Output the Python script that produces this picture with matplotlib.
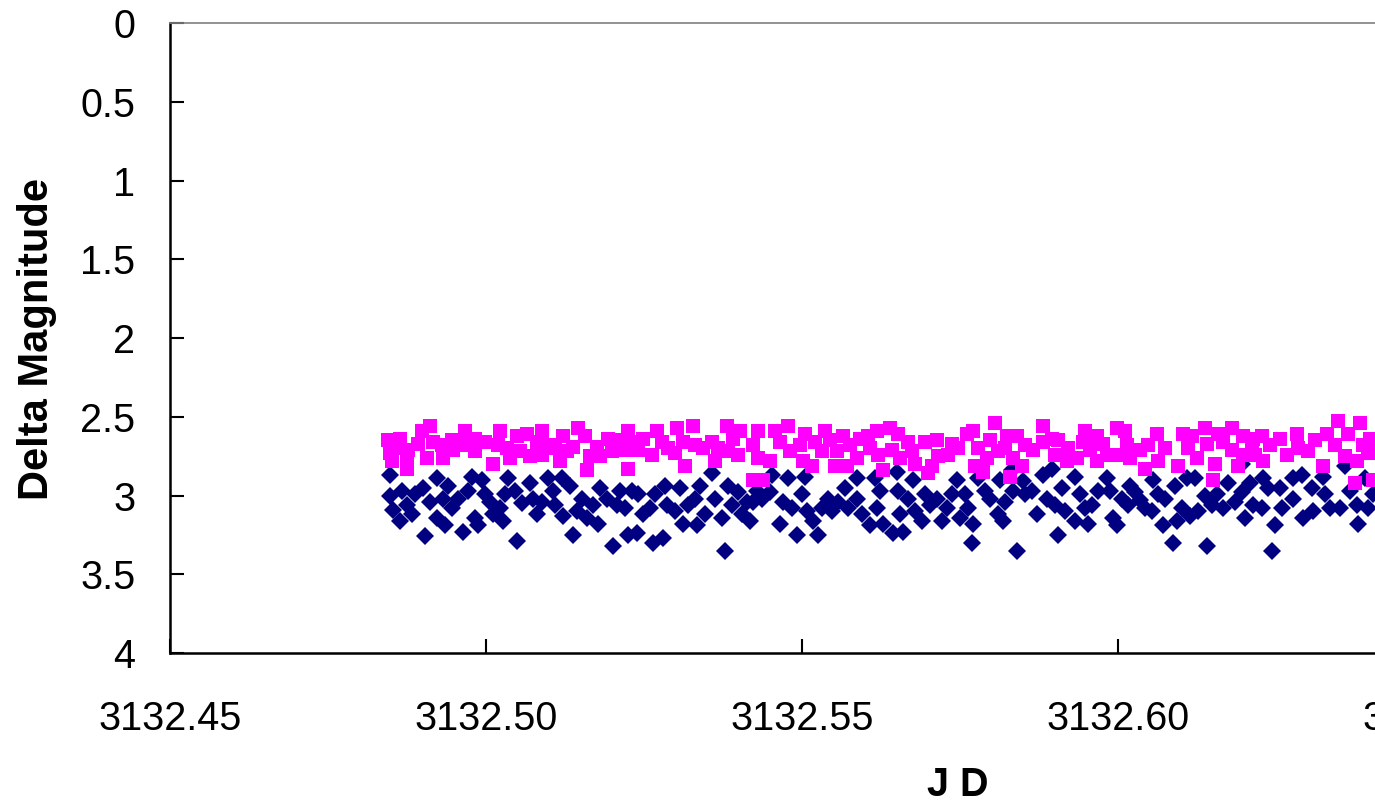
import numpy as np
import matplotlib
matplotlib.use('Agg')
import matplotlib.pyplot as plt

## Dati: JD e delta magnitudine
## serie rosa (quadrati)
jd_pink = [3132.4845, 3132.4848, 3132.4851, 3132.4861, 3132.4864, 3132.4875, 3132.4875, 3132.4877,
           3132.4892, 3132.4899, 3132.4907, 3132.4911, 3132.4916, 3132.4930, 3132.4932, 3132.4946,
           3132.4948, 3132.4964, 3132.4967, 3132.4983, 3132.4983, 3132.4998, 3132.5011, 3132.5019,
           3132.5022, 3132.5033, 3132.5038, 3132.5049, 3132.5054, 3132.5065, 3132.5070, 3132.5081,
           3132.5089, 3132.5089, 3132.5101, 3132.5109, 3132.5117, 3132.5122, 3132.5128, 3132.5138,
           3132.5146, 3132.5157, 3132.5160, 3132.5165, 3132.5176, 3132.5180, 3132.5193, 3132.5199,
           3132.5209, 3132.5220, 3132.5225, 3132.5225, 3132.5228, 3132.5241, 3132.5248, 3132.5263,
           3132.5271, 3132.5278, 3132.5288, 3132.5299, 3132.5302, 3132.5312, 3132.5315, 3132.5328,
           3132.5331, 3132.5343, 3132.5358, 3132.5362, 3132.5367, 3132.5381, 3132.5383, 3132.5391,
           3132.5399, 3132.5402, 3132.5422, 3132.5422, 3132.5430, 3132.5430, 3132.5438, 3132.5449,
           3132.5457, 3132.5465, 3132.5478, 3132.5481, 3132.5497, 3132.5502, 3132.5505, 3132.5516,
           3132.5521, 3132.5532, 3132.5536, 3132.5544, 3132.5552, 3132.5555, 3132.5565, 3132.5571,
           3132.5576, 3132.5587, 3132.5592, 3132.5604, 3132.5608, 3132.5619, 3132.5620, 3132.5628,
           3132.5639, 3132.5642, 3132.5652, 3132.5655, 3132.5668, 3132.5674, 3132.5679, 3132.5695,
           3132.5699, 3132.5706, 3132.5714, 3132.5715, 3132.5731, 3132.5737, 3132.5747, 3132.5761,
           3132.5771, 3132.5774, 3132.5778, 3132.5786, 3132.5793, 3132.5797, 3132.5805, 3132.5810,
           3132.5821, 3132.5824, 3132.5829, 3132.5834, 3132.5840, 3132.5848, 3132.5853, 3132.5865,
           3132.5881, 3132.5881, 3132.5896, 3132.5900, 3132.5905, 3132.5919, 3132.5921, 3132.5935,
           3132.5945, 3132.5948, 3132.5956, 3132.5967, 3132.5967, 3132.5976, 3132.5983, 3132.5998,
           3132.6003, 3132.6011, 3132.6014, 3132.6019, 3132.6035, 3132.6043, 3132.6047, 3132.6062,
           3132.6063, 3132.6074, 3132.6095, 3132.6103, 3132.6111, 3132.6117, 3132.6125, 3132.6138,
           3132.6141, 3132.6150, 3132.6153, 3132.6158, 3132.6166, 3132.6180, 3132.6180, 3132.6190,
           3132.6198, 3132.6198, 3132.6212, 3132.6214, 3132.6217, 3132.6228, 3132.6229, 3132.6240,
           3132.6256, 3132.6267, 3132.6283, 3132.6285, 3132.6301, 3132.6312, 3132.6324, 3132.6331,
           3132.6343, 3132.6348, 3132.6359, 3132.6364, 3132.6375, 3132.6378, 3132.6383, 3132.6388,
           3132.6396, 3132.6399, 3132.6403]
mag_pink = [2.65, 2.73, 2.78, 2.70, 2.64, 2.83, 2.78, 2.71,
            2.67, 2.59, 2.76, 2.56, 2.66, 2.68, 2.76, 2.65,
            2.71, 2.68, 2.59, 2.64, 2.72, 2.66, 2.80, 2.68,
            2.59, 2.70, 2.76, 2.62, 2.72, 2.61, 2.75, 2.66,
            2.59, 2.74, 2.68, 2.70, 2.78, 2.62, 2.72, 2.69,
            2.57, 2.62, 2.84, 2.75, 2.69, 2.75, 2.64, 2.72,
            2.65, 2.71, 2.83, 2.59, 2.66, 2.71, 2.64, 2.74,
            2.59, 2.66, 2.70, 2.73, 2.57, 2.66, 2.81, 2.56,
            2.68, 2.70, 2.66, 2.78, 2.70, 2.56, 2.72, 2.64,
            2.74, 2.59, 2.68, 2.90, 2.59, 2.76, 2.90, 2.78,
            2.59, 2.66, 2.56, 2.72, 2.68, 2.78, 2.61, 2.81,
            2.66, 2.72, 2.59, 2.65, 2.81, 2.72, 2.62, 2.81,
            2.68, 2.76, 2.64, 2.62, 2.70, 2.59, 2.74, 2.84,
            2.57, 2.71, 2.61, 2.76, 2.66, 2.72, 2.80, 2.66,
            2.86, 2.81, 2.65, 2.75, 2.74, 2.67, 2.70, 2.61,
            2.59, 2.81, 2.70, 2.85, 2.76, 2.65, 2.54, 2.72,
            2.70, 2.62, 2.88, 2.76, 2.62, 2.81, 2.68, 2.71,
            2.56, 2.66, 2.64, 2.74, 2.65, 2.78, 2.70, 2.76,
            2.66, 2.59, 2.71, 2.78, 2.62, 2.67, 2.74, 2.57,
            2.74, 2.59, 2.68, 2.76, 2.71, 2.83, 2.68, 2.61,
            2.78, 2.70, 2.81, 2.61, 2.70, 2.62, 2.76, 2.57,
            2.67, 2.90, 2.80, 2.61, 2.66, 2.57, 2.71, 2.81,
            2.62, 2.74, 2.68, 2.64, 2.74, 2.62, 2.78, 2.68,
            2.64, 2.74, 2.61, 2.70, 2.72, 2.65, 2.81, 2.61,
            2.68, 2.53, 2.75, 2.61, 2.92, 2.78, 2.54, 2.68,
            2.73, 2.64, 2.90]

## serie blu (rombi)
jd_blue = [3132.4848, 3132.4848, 3132.4853, 3132.4864, 3132.4867, 3132.4875, 3132.4883, 3132.4888,
           3132.4900, 3132.4903, 3132.4911, 3132.4922, 3132.4922, 3132.4932, 3132.4935, 3132.4940,
           3132.4946, 3132.4956, 3132.4964, 3132.4972, 3132.4978, 3132.4983, 3132.4987, 3132.4994,
           3132.4998, 3132.5006, 3132.5011, 3132.5022, 3132.5035, 3132.5030, 3132.5027, 3132.5046,
           3132.5049, 3132.5057, 3132.5070, 3132.5074, 3132.5081, 3132.5089, 3132.5098, 3132.5106,
           3132.5109, 3132.5120, 3132.5122, 3132.5133, 3132.5138, 3132.5144, 3132.5152, 3132.5160,
           3132.5169, 3132.5180, 3132.5177, 3132.5191, 3132.5201, 3132.5207, 3132.5212, 3132.5220,
           3132.5225, 3132.5231, 3132.5239, 3132.5241, 3132.5248, 3132.5259, 3132.5264, 3132.5267,
           3132.5280, 3132.5283, 3132.5286, 3132.5299, 3132.5307, 3132.5312, 3132.5320, 3132.5331,
           3132.5334, 3132.5339, 3132.5347, 3132.5358, 3132.5362, 3132.5373, 3132.5378, 3132.5383,
           3132.5389, 3132.5399, 3132.5405, 3132.5413, 3132.5418, 3132.5422, 3132.5429, 3132.5437,
           3132.5453, 3132.5449, 3132.5465, 3132.5470, 3132.5478, 3132.5484, 3132.5492, 3132.5500,
           3132.5505, 3132.5508, 3132.5517, 3132.5525, 3132.5532, 3132.5541, 3132.5547, 3132.5557,
           3132.5568, 3132.5573, 3132.5587, 3132.5587, 3132.5595, 3132.5608, 3132.5616, 3132.5619,
           3132.5623, 3132.5628, 3132.5644, 3132.5650, 3132.5652, 3132.5655, 3132.5660, 3132.5668,
           3132.5676, 3132.5679, 3132.5690, 3132.5695, 3132.5703, 3132.5714, 3132.5722, 3132.5729,
           3132.5737, 3132.5745, 3132.5750, 3132.5758, 3132.5763, 3132.5769, 3132.5771, 3132.5778,
           3132.5790, 3132.5797, 3132.5810, 3132.5818, 3132.5813, 3132.5821, 3132.5832, 3132.5834,
           3132.5840, 3132.5850, 3132.5853, 3132.5864, 3132.5872, 3132.5881, 3132.5888, 3132.5896,
           3132.5900, 3132.5905, 3132.5911, 3132.5916, 3132.5932, 3132.5932, 3132.5940, 3132.5948,
           3132.5953, 3132.5959, 3132.5968, 3132.5983, 3132.5987, 3132.5992, 3132.5998, 3132.6006,
           3132.6016, 3132.6019, 3132.6027, 3132.6035, 3132.6043, 3132.6055, 3132.6054, 3132.6063,
           3132.6071, 3132.6074, 3132.6087, 3132.6090, 3132.6093, 3132.6101, 3132.6109, 3132.6114,
           3132.6122, 3132.6127, 3132.6138, 3132.6141, 3132.6149, 3132.6157, 3132.6166, 3132.6174,
           3132.6185, 3132.6196, 3132.6196, 3132.6201, 3132.6209, 3132.6214, 3132.6229, 3132.6228,
           3132.6237, 3132.6248, 3132.6244, 3132.6256, 3132.6260, 3132.6277, 3132.6277, 3132.6291,
           3132.6293, 3132.6307, 3132.6309, 3132.6324, 3132.6328, 3132.6335, 3132.6351, 3132.6359,
           3132.6367, 3132.6378, 3132.6380, 3132.6391, 3132.6396, 3132.6403]
mag_blue = [2.87, 3.00, 3.09, 3.16, 2.97, 3.06, 3.12, 2.99,
            2.95, 3.26, 3.04, 2.89, 3.14, 3.02, 3.19, 2.94,
            3.08, 3.02, 3.23, 2.97, 2.88, 3.14, 3.19, 2.90,
            2.99, 3.04, 3.12, 3.08, 2.89, 2.99, 3.16, 2.97,
            3.29, 3.05, 2.92, 3.02, 3.12, 3.04, 2.89, 2.97,
            3.06, 2.89, 3.13, 2.94, 3.25, 3.10, 3.02, 3.14,
            3.06, 2.95, 3.18, 3.02, 3.32, 3.06, 2.97, 3.08,
            3.25, 2.97, 3.24, 2.99, 3.12, 3.08, 3.30, 2.99,
            3.27, 2.94, 3.06, 3.10, 2.95, 3.18, 3.06, 3.02,
            3.19, 2.94, 3.12, 2.86, 3.02, 3.14, 3.35, 2.94,
            3.06, 2.98, 3.12, 3.04, 3.16, 3.04, 2.97, 3.02,
            2.87, 2.98, 3.18, 3.04, 2.89, 3.08, 3.25, 2.99,
            2.88, 3.10, 3.16, 3.25, 3.08, 3.02, 3.10, 3.04,
            2.95, 3.08, 2.89, 3.02, 3.12, 3.19, 2.89, 3.08,
            2.97, 3.18, 3.24, 2.85, 2.97, 3.12, 3.23, 3.02,
            2.90, 3.10, 3.16, 2.99, 3.06, 3.02, 3.16, 3.08,
            2.99, 2.90, 3.14, 2.99, 3.08, 3.30, 3.18, 2.89,
            2.97, 3.02, 3.12, 3.16, 2.90, 3.04, 2.84, 2.97,
            3.35, 2.91, 2.99, 2.97, 3.12, 2.87, 3.02, 2.83,
            3.06, 3.25, 2.95, 3.10, 2.88, 3.16, 2.99, 3.08,
            3.18, 3.06, 2.97, 2.89, 2.97, 3.14, 3.19, 3.02,
            3.06, 2.94, 2.98, 3.03, 3.08, 2.90, 3.10, 2.99,
            3.19, 3.02, 3.30, 2.94, 3.16, 3.08, 2.89, 3.13,
            2.89, 3.10, 3.00, 3.32, 3.06, 2.99, 3.08, 2.92,
            3.04, 2.80, 2.98, 3.14, 2.92, 3.06, 2.89, 3.08,
            2.95, 3.19, 3.35, 2.95, 3.08, 2.89, 3.02, 2.87,
            3.14, 2.95, 3.10, 2.88, 2.99, 3.08, 3.08, 2.81,
            2.97, 3.06, 3.18, 2.89, 3.08, 2.99]

yticks = [0, 0.5, 1, 1.5, 2, 2.5, 3, 3.5, 4]
ylabels = ['0', '0.5', '1', '1.5', '2', '2.5', '3', '3.5', '4']
xticks = [3132.45, 3132.50, 3132.55, 3132.60, 3132.65]
xlabels = ['3132.45', '3132.50', '3132.55', '3132.60', '3132.65']

plt.rcParams['font.family'] = ['Liberation Sans', 'DejaVu Sans']

fig = plt.figure(figsize=(13.75, 8.07), dpi=100)
# l'area del grafico esce a destra oltre il bordo della figura (come nell'originale)
ax = fig.add_axes([0.1236, 0.1908, 0.9193, 0.7807])

ax.plot(jd_blue, mag_blue, 'D', color='#000080', markersize=9, markeredgewidth=0, zorder=2)
ax.plot(jd_pink, mag_pink, 's', color='#FF00FF', markersize=9.5, markeredgewidth=0, zorder=3)

ax.set_xlim(3132.45, 3132.65)
ax.set_ylim(4, 0)
ax.set_yticks(yticks)
ax.set_yticklabels(ylabels)
ax.set_xticks(xticks)
ax.set_xticklabels(xlabels)

ax.tick_params(axis='both', direction='in', length=10, width=1.5, labelsize=28.5, colors='black')
ax.tick_params(axis='y', pad=25)
ax.tick_params(axis='x', pad=34)

ax.spines['left'].set_linewidth(1.8)
ax.spines['bottom'].set_linewidth(1.8)
ax.spines['top'].set_color('#808080')
ax.spines['top'].set_linewidth(1.2)
ax.spines['right'].set_visible(False)

ax.set_ylabel('Delta Magnitude', fontsize=30, fontweight='bold')
ax.yaxis.set_label_coords(-0.105, 0.498)
ax.yaxis.label.set_va('center')
ax.set_xlabel('J D', fontsize=28.5, fontweight='bold')
ax.xaxis.set_label_coords(0.6234, -0.2095)
ax.xaxis.label.set_va('center')

fig.savefig('out.png', dpi=100)
